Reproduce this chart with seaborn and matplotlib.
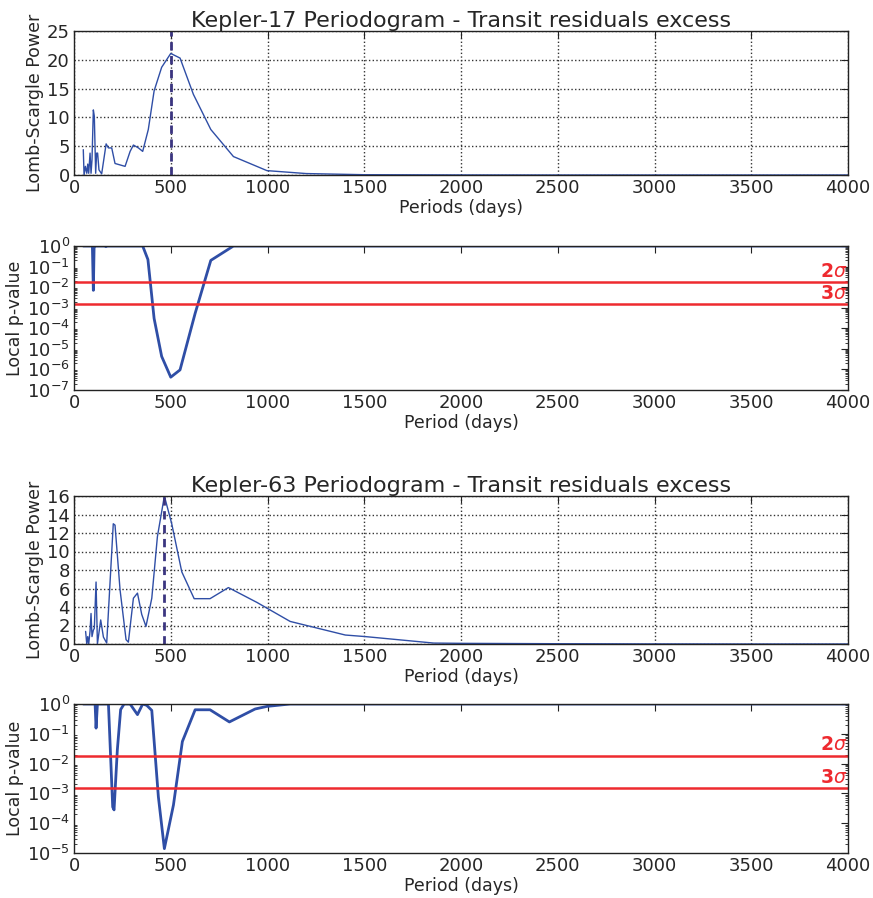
import numpy as np
import pandas as pd
import matplotlib
matplotlib.use("Agg")
import matplotlib.pyplot as plt
from matplotlib.ticker import LogLocator, NullFormatter
import seaborn as sns

# ---------------- data ----------------
k17_period = [48, 52, 59, 66, 71, 76, 83, 88, 93, 100, 105, 112, 117, 122, 129, 143, 166, 178, 195,
              212, 264, 290, 307, 333, 355, 384, 414, 453, 500, 548, 617, 707, 824, 997, 1200,
              1500, 2000, 2500, 3000, 3500, 4000]
k17_power = [4.4, 0.0, 1.5, 0.3, 1.9, 0.3, 3.8, 0.3, 2.6, 11.3, 10.2, 0.3, 3.8, 3.8, 0.9, 0.2, 5.4,
             4.7, 4.7, 2.0, 1.5, 4.1, 5.2, 4.7, 4.1, 7.9, 14.6, 18.7, 21.1, 20.3, 14.0, 7.9, 3.2,
             0.76, 0.25, 0.05, 0.01, 0.0, 0.0, 0.0, 0.0]

k17_pv_period = [48, 95, 100, 104, 108, 160, 165, 170, 355, 382, 414, 453, 500, 548, 626, 707, 824,
                 1000, 2000, 3000, 4000]
k17_pvalue = [1.0, 1.0, 7e-3, 1.0, 1.0, 1.0, 0.93, 1.0, 1.0, 0.22, 3e-4, 4.3e-6, 4.2e-7, 9.5e-7,
              5.3e-4, 0.2, 1.0, 1.0, 1.0, 1.0, 1.0]

k63_period = [60, 66, 71, 76, 83, 88, 93, 100, 105, 114, 121, 138, 152, 169, 203, 212, 238, 269,
              281, 307, 328, 350, 372, 402, 431, 467, 505, 557, 621, 703, 798, 945, 1117, 1402,
              1506, 1859, 2014, 2497, 2980, 3500, 4000]
k63_power = [1.36, 0.0, 0.8, 0.0, 1.4, 3.3, 0.8, 1.5, 1.7, 6.7, 0.0, 2.6, 0.75, 0.1, 13.0, 12.85,
             5.85, 0.47, 0.2, 4.95, 5.5, 3.2, 1.9, 4.95, 11.6, 16.0, 13.0, 7.8, 4.9, 4.9, 6.1, 4.5,
             2.44, 0.97, 0.8, 0.1, 0.07, 0.03, 0.01, 0.0, 0.0]

k63_pv_period = [48, 109, 114, 121, 178, 200, 207, 224, 241, 259, 290, 328, 355, 376, 402, 436,
                 467, 514, 560, 626, 703, 803, 936, 997, 1117, 2000, 3000, 4000]
k63_pvalue = [1.0, 1.0, 0.155, 1.0, 1.0, 3.5e-4, 2.8e-4, 0.029, 0.65, 1.0, 1.0, 0.44, 1.0, 0.9,
              0.61, 7.7e-4, 1.4e-5, 4.1e-4, 0.055, 0.64, 0.64, 0.25, 0.68, 0.83, 1.0, 1.0, 1.0, 1.0]

sigma_labels = ["2$\\sigma$", "3$\\sigma$"]
sigma_pvalues = [0.0185, 0.0015]
best_period = [500, 467]
titles = ["Kepler-17 Periodogram - Transit residuals excess",
          "Kepler-63 Periodogram - Transit residuals excess"]
xlabels = ["Periods (days)", "Period (days)", "Period (days)", "Period (days)"]

# ---------------- style ----------------
sns.set_style("white")
plt.rcParams.update({
    "font.family": ["DejaVu Sans"],
    "xtick.direction": "in", "ytick.direction": "in",
    "xtick.top": True, "ytick.right": True,
    "xtick.major.size": 5, "ytick.major.size": 5,
    "xtick.minor.size": 2.5, "ytick.minor.size": 2.5,
    "xtick.color": "#222222", "ytick.color": "#222222",
    "axes.edgecolor": "#222222", "axes.linewidth": 1.0,
    "text.color": "#262626", "axes.labelcolor": "#262626",
    "xtick.labelcolor": "#262626", "ytick.labelcolor": "#262626",
})

BLUE = "#2f4ea6"
RED = "#ee2a2f"
DASH = "#3b3580"

fig = plt.figure(figsize=(8.73, 8.98), dpi=100)
W, H = 873, 898
def pos(l, t, r, b):
    return [l / W, 1 - b / H, (r - l) / W, (b - t) / H]

ax1 = fig.add_axes(pos(74, 31, 848, 175))
ax2 = fig.add_axes(pos(74, 246, 848, 390))
ax3 = fig.add_axes(pos(74, 496, 848, 644))
ax4 = fig.add_axes(pos(74, 704, 848, 853))

def power_panel(ax, per, pw, ymax, ystep, best, title, xlabel):
    df = pd.DataFrame({"period": per, "power": pw})
    sns.lineplot(data=df, x="period", y="power", ax=ax, color=BLUE, lw=1.0, sort=False)
    ax.axvline(best, color=DASH, lw=2, ls="--", dashes=(3, 2))
    ax.set_xlim(0, 4000)
    ax.set_ylim(0, ymax)
    ax.set_xticks(np.arange(0, 4001, 500))
    ax.set_yticks(np.arange(0, ymax + 0.1, ystep))
    ax.grid(True, color="#333333", ls=":", lw=1.0)
    ax.set_title(title, fontsize=16, pad=3)
    ax.set_xlabel(xlabel, fontsize=12.5, labelpad=1)
    ax.set_ylabel("Lomb-Scargle Power", fontsize=12.5, labelpad=2)
    ax.tick_params(labelsize=13, pad=3)
    for s in ax.spines.values():
        s.set_visible(True)

def pvalue_panel(ax, per, pv, ymin, xlabel):
    df = pd.DataFrame({"period": per, "pvalue": pv})
    sns.lineplot(data=df, x="period", y="pvalue", ax=ax, color=BLUE, lw=2.0, sort=False)
    ax.set_yscale("log")
    ax.set_xlim(0, 4000)
    ax.set_ylim(ymin, 1)
    ax.set_xticks(np.arange(0, 4001, 500))
    ax.set_yticks([10.0 ** k for k in range(int(np.log10(ymin)), 1)])
    ax.yaxis.set_minor_locator(LogLocator(base=10, subs=np.arange(2, 10), numticks=100))
    ax.yaxis.set_minor_formatter(NullFormatter())
    for lab, p in zip(sigma_labels, sigma_pvalues):
        ax.axhline(p, color=RED, lw=1.8)
        ax.text(3995, p * 1.12, lab, color=RED, fontsize=13.5, fontweight="bold",
                ha="right", va="bottom")
    ax.grid(False)
    ax.set_xlabel(xlabel, fontsize=12.5, labelpad=1)
    ax.set_ylabel("Local p-value", fontsize=12.5, labelpad=2)
    ax.tick_params(labelsize=13, pad=3)
    ax.tick_params(axis="y", which="minor", left=True, right=True, direction="in", length=2.5)
    for s in ax.spines.values():
        s.set_visible(True)

power_panel(ax1, k17_period, k17_power, 25, 5, best_period[0], titles[0], xlabels[0])
pvalue_panel(ax2, k17_pv_period, k17_pvalue, 1e-7, xlabels[1])
power_panel(ax3, k63_period, k63_power, 16, 2, best_period[1], titles[1], xlabels[2])
pvalue_panel(ax4, k63_pv_period, k63_pvalue, 1e-5, xlabels[3])

fig.savefig("out.png", dpi=100)
